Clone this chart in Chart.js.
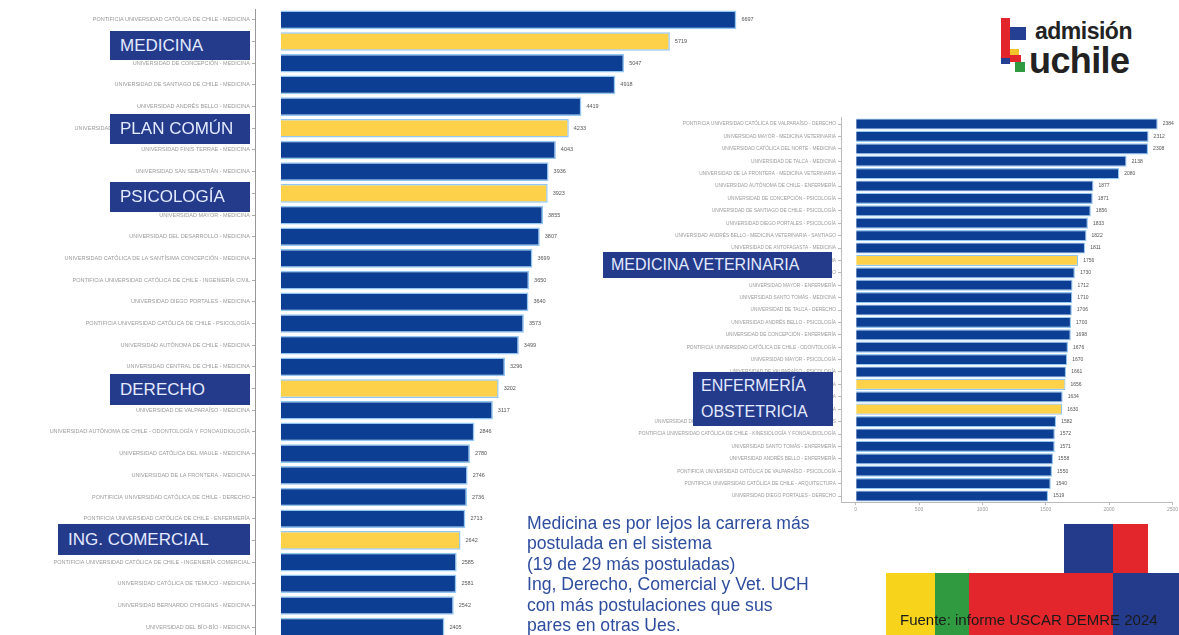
<!DOCTYPE html>
<html>
<head>
<meta charset="utf-8">
<script src="https://cdn.jsdelivr.net/npm/chart.js@4.4.1/dist/chart.umd.min.js"></script>
<style>
  body { margin: 0; width: 1179px; height: 635px; overflow: hidden; background: #fff; font-family: "Liberation Sans", Arial, sans-serif; position: relative; }
  canvas { position: absolute; }
  .tag { position: absolute; background: #243b8c; color: #e4eaff; font-size: 17px; box-sizing: border-box; padding-left: 10px; display: flex; align-items: center; }
  .blk { position: absolute; }
  #note { position: absolute; left: 527px; top: 513px; font-size: 17.6px; line-height: 20.4px; color: #2f4d9e; white-space: nowrap; }
</style>
</head>
<body>
<canvas id="leftChart" width="800" height="650" style="left:0;top:0"></canvas>
<canvas id="rightChart" width="579" height="425" style="left:600px;top:100px"></canvas>

<div class="tag" style="left:110px;top:31px;width:140px;height:29px">MEDICINA</div>
<div class="tag" style="left:110px;top:114px;width:140px;height:30px">PLAN COMÚN</div>
<div class="tag" style="left:110px;top:182px;width:140px;height:30px">PSICOLOGÍA</div>
<div class="tag" style="left:110px;top:374px;width:140px;height:31px">DERECHO</div>
<div class="tag" style="left:58px;top:524px;width:192px;height:31px">ING. COMERCIAL</div>
<div class="tag" style="left:603px;top:252px;width:229px;height:26px;font-size:16px;padding-left:8px">MEDICINA VETERINARIA</div>
<div class="tag" style="left:693px;top:372px;width:140px;height:54px;font-size:16px;padding-left:8px;line-height:26px">ENFERMERÍA<br>OBSTETRICIA</div>

<div id="note">Medicina es por lejos la carrera más<br>postulada en el sistema<br>(19 de 29 más postuladas)<br>Ing, Derecho, Comercial y Vet. UCH<br>con más postulaciones que sus<br>pares en otras Ues.</div>

<!-- logo -->
<div class="blk" style="left:1001px;top:18px;width:9px;height:45px;background:#e3262b"></div>
<div class="blk" style="left:1010px;top:27px;width:16px;height:13px;background:#253f93"></div>
<div class="blk" style="left:1010px;top:49px;width:9px;height:6px;background:#f4c52a"></div>
<div class="blk" style="left:1010px;top:55px;width:11px;height:7px;background:#e3262b"></div>
<div class="blk" style="left:1001px;top:58px;width:9px;height:6px;background:#253f93"></div>
<div class="blk" style="left:1015px;top:62px;width:10px;height:10px;background:#2f9a3f"></div>
<div class="blk" style="left:1035px;top:18px;font-size:23px;font-weight:bold;color:#222;letter-spacing:-0.5px">admisión</div>
<div class="blk" style="left:1029px;top:40px;font-size:36px;font-weight:bold;color:#222;letter-spacing:-0.6px">uchile</div>

<!-- bottom-right blocks -->
<div class="blk" style="left:1064px;top:524px;width:49px;height:49px;background:#243b8c"></div>
<div class="blk" style="left:1113px;top:524px;width:35px;height:49px;background:#e3262b"></div>
<div class="blk" style="left:886px;top:573px;width:49px;height:62px;background:#f7d31c"></div>
<div class="blk" style="left:935px;top:573px;width:34px;height:62px;background:#2f9a3f"></div>
<div class="blk" style="left:969px;top:573px;width:144px;height:62px;background:#e3262b"></div>
<div class="blk" style="left:1113px;top:573px;width:66px;height:62px;background:#243b8c"></div>
<div class="blk" style="left:900px;top:611px;font-size:15px;color:#1a1a1a">Fuente: informe USCAR DEMRE 2024</div>

<script>
'use strict';

// left chart: 29 most applied-to programmes
const leftLabels = [
  'PONTIFICIA UNIVERSIDAD CATÓLICA DE CHILE - MEDICINA',
  'UNIVERSIDAD DE CHILE - MEDICINA',
  'UNIVERSIDAD DE CONCEPCIÓN - MEDICINA',
  'UNIVERSIDAD DE SANTIAGO DE CHILE - MEDICINA',
  'UNIVERSIDAD ANDRÉS BELLO - MEDICINA',
  'UNIVERSIDAD DE CHILE - INGENIERÍA Y CIENCIAS - PLAN COMÚN',
  'UNIVERSIDAD FINIS TERRAE - MEDICINA',
  'UNIVERSIDAD SAN SEBASTIÁN - MEDICINA',
  'UNIVERSIDAD DE CHILE - PSICOLOGÍA',
  'UNIVERSIDAD MAYOR - MEDICINA',
  'UNIVERSIDAD DEL DESARROLLO - MEDICINA',
  'UNIVERSIDAD CATÓLICA DE LA SANTÍSIMA CONCEPCIÓN - MEDICINA',
  'PONTIFICIA UNIVERSIDAD CATÓLICA DE CHILE - INGENIERÍA CIVIL',
  'UNIVERSIDAD DIEGO PORTALES - MEDICINA',
  'PONTIFICIA UNIVERSIDAD CATÓLICA DE CHILE - PSICOLOGÍA',
  'UNIVERSIDAD AUTÓNOMA DE CHILE - MEDICINA',
  'UNIVERSIDAD CENTRAL DE CHILE - MEDICINA',
  'UNIVERSIDAD DE CHILE - DERECHO',
  'UNIVERSIDAD DE VALPARAÍSO - MEDICINA',
  'UNIVERSIDAD AUTÓNOMA DE CHILE - ODONTOLOGÍA Y FONOAUDIOLOGÍA',
  'UNIVERSIDAD CATÓLICA DEL MAULE - MEDICINA',
  'UNIVERSIDAD DE LA FRONTERA - MEDICINA',
  'PONTIFICIA UNIVERSIDAD CATÓLICA DE CHILE - DERECHO',
  'PONTIFICIA UNIVERSIDAD CATÓLICA DE CHILE - ENFERMERÍA',
  'UNIVERSIDAD DE CHILE - INGENIERÍA COMERCIAL',
  'PONTIFICIA UNIVERSIDAD CATÓLICA DE CHILE - INGENIERÍA COMERCIAL',
  'UNIVERSIDAD CATÓLICA DE TEMUCO - MEDICINA',
  "UNIVERSIDAD BERNARDO O'HIGGINS - MEDICINA",
  'UNIVERSIDAD DEL BÍO-BÍO - MEDICINA'
];
const leftValues = [6697, 5719, 5047, 4918, 4419, 4233, 4043, 3936, 3923, 3855,
  3807, 3699, 3650, 3640, 3573, 3499, 3296, 3202, 3117, 2846,
  2780, 2746, 2736, 2713, 2642, 2585, 2581, 2542, 2405];
const leftUchile = [1, 5, 8, 17, 24];

// right chart: the following 31 programmes
const rightLabels = [
  'PONTIFICIA UNIVERSIDAD CATÓLICA DE VALPARAÍSO - DERECHO',
  'UNIVERSIDAD MAYOR - MEDICINA VETERINARIA',
  'UNIVERSIDAD CATÓLICA DEL NORTE - MEDICINA',
  'UNIVERSIDAD DE TALCA - MEDICINA',
  'UNIVERSIDAD DE LA FRONTERA - MEDICINA VETERINARIA',
  'UNIVERSIDAD AUTÓNOMA DE CHILE - ENFERMERÍA',
  'UNIVERSIDAD DE CONCEPCIÓN - PSICOLOGÍA',
  'UNIVERSIDAD DE SANTIAGO DE CHILE - PSICOLOGÍA',
  'UNIVERSIDAD DIEGO PORTALES - PSICOLOGÍA',
  'UNIVERSIDAD ANDRÉS BELLO - MEDICINA VETERINARIA - SANTIAGO',
  'UNIVERSIDAD DE ANTOFAGASTA - MEDICINA',
  'UNIVERSIDAD DE CHILE - MEDICINA VETERINARIA',
  'UNIVERSIDAD DE CONCEPCIÓN - DERECHO',
  'UNIVERSIDAD MAYOR - ENFERMERÍA',
  'UNIVERSIDAD SANTO TOMÁS - MEDICINA',
  'UNIVERSIDAD DE TALCA - DERECHO',
  'UNIVERSIDAD ANDRÉS BELLO - PSICOLOGÍA',
  'UNIVERSIDAD DE CONCEPCIÓN - ENFERMERÍA',
  'PONTIFICIA UNIVERSIDAD CATÓLICA DE CHILE - ODONTOLOGÍA',
  'UNIVERSIDAD MAYOR - PSICOLOGÍA',
  'UNIVERSIDAD DE VALPARAÍSO - PSICOLOGÍA',
  'UNIVERSIDAD DE CHILE - ENFERMERÍA',
  'UNIVERSIDAD DE LA FRONTERA - ENFERMERÍA',
  'UNIVERSIDAD DE CHILE - OBSTETRICIA Y PUERICULTURA',
  'UNIVERSIDAD DE SANTIAGO DE CHILE - INGENIERÍA CIVIL EN OBRAS CIVILES',
  'PONTIFICIA UNIVERSIDAD CATÓLICA DE CHILE - KINESIOLOGÍA Y FONOAUDIOLOGÍA',
  'UNIVERSIDAD SANTO TOMÁS - ENFERMERÍA',
  'UNIVERSIDAD ANDRÉS BELLO - ENFERMERÍA',
  'PONTIFICIA UNIVERSIDAD CATÓLICA DE VALPARAÍSO - PSICOLOGÍA',
  'PONTIFICIA UNIVERSIDAD CATÓLICA DE CHILE - ARQUITECTURA',
  'UNIVERSIDAD DIEGO PORTALES - DERECHO'
];
const rightValues = [2384, 2312, 2308, 2138, 2080, 1877, 1871, 1856, 1833, 1822,
  1811, 1756, 1730, 1712, 1710, 1706, 1700, 1698, 1676, 1670,
  1661, 1656, 1634, 1630, 1582, 1572, 1571, 1558, 1550, 1540, 1519];
const rightUchile = [11, 21, 23];
const rightTicks = [0, 500, 1000, 1500, 2000, 2500];

const BLUE = '#0c3f93';
const YELLOW = '#fdd24a';
const EDGE = '#93c6f1';

function barColors(values, highlight) {
  return values.map((v, i) => highlight.includes(i) ? YELLOW : BLUE);
}

// draws the number just after the end of each bar
function valuePlugin(size) {
  return {
    id: 'valueText',
    afterDatasetsDraw(chart) {
      const ctx = chart.ctx;
      const meta = chart.getDatasetMeta(0);
      const data = chart.data.datasets[0].data;
      ctx.save();
      ctx.font = size + 'px "Liberation Sans", Arial, sans-serif';
      ctx.fillStyle = '#555';
      ctx.textBaseline = 'middle';
      meta.data.forEach((bar, i) => {
        ctx.fillText(data[i], bar.x + 5, bar.y);
      });
      ctx.restore();
    }
  };
}

new Chart(document.getElementById('leftChart'), {
  type: 'bar',
  data: {
    labels: leftLabels,
    datasets: [{
      data: leftValues,
      backgroundColor: barColors(leftValues, leftUchile),
      borderColor: EDGE,
      borderWidth: 1.5,
      barPercentage: 1,
      categoryPercentage: 0.86
    }]
  },
  options: {
    indexAxis: 'y',
    responsive: false,
    animation: false,
    layout: { padding: { top: 9, right: 9, bottom: 12, left: 0 } },
    plugins: { legend: { display: false }, tooltip: { enabled: false } },
    scales: {
      x: { display: false, min: -380, max: 7500 },
      y: {
        afterFit(s) { s.width = 255; },
        ticks: { autoSkip: false, padding: 2, color: '#9a9a9a', font: { size: 5.5 } },
        grid: { drawOnChartArea: false, offset: false, tickLength: 3, color: '#aaa' },
        border: { display: true, color: '#999' }
      }
    }
  },
  plugins: [valuePlugin(5.5)]
});

new Chart(document.getElementById('rightChart'), {
  type: 'bar',
  data: {
    labels: rightLabels,
    datasets: [{
      data: rightValues,
      backgroundColor: barColors(rightValues, rightUchile),
      borderColor: EDGE,
      borderWidth: 1.2,
      barPercentage: 1,
      categoryPercentage: 0.9
    }]
  },
  options: {
    indexAxis: 'y',
    responsive: false,
    animation: false,
    layout: { padding: { top: 17.8, right: 0, bottom: 2.8, left: 0 } },
    plugins: { legend: { display: false }, tooltip: { enabled: false } },
    scales: {
      x: {
        min: -116,
        max: 2500,
        afterFit(s) { s.height = 20; },
        afterBuildTicks(s) { s.ticks = rightTicks.map(v => ({ value: v })); },
        ticks: { color: '#999', font: { size: 5 }, maxRotation: 0, padding: 1, callback: v => String(v) },
        grid: { drawOnChartArea: false, tickLength: 3, color: '#bbb' },
        border: { display: true, color: '#bbb' }
      },
      y: {
        afterFit(s) { s.width = 241; },
        ticks: { autoSkip: false, padding: 2, color: '#9a9a9a', font: { size: 4.8 } },
        grid: { drawOnChartArea: false, offset: false, tickLength: 3, color: '#bbb' },
        border: { display: true, color: '#bbb' }
      }
    }
  },
  plugins: [valuePlugin(5)]
});
</script>
</body>
</html>
